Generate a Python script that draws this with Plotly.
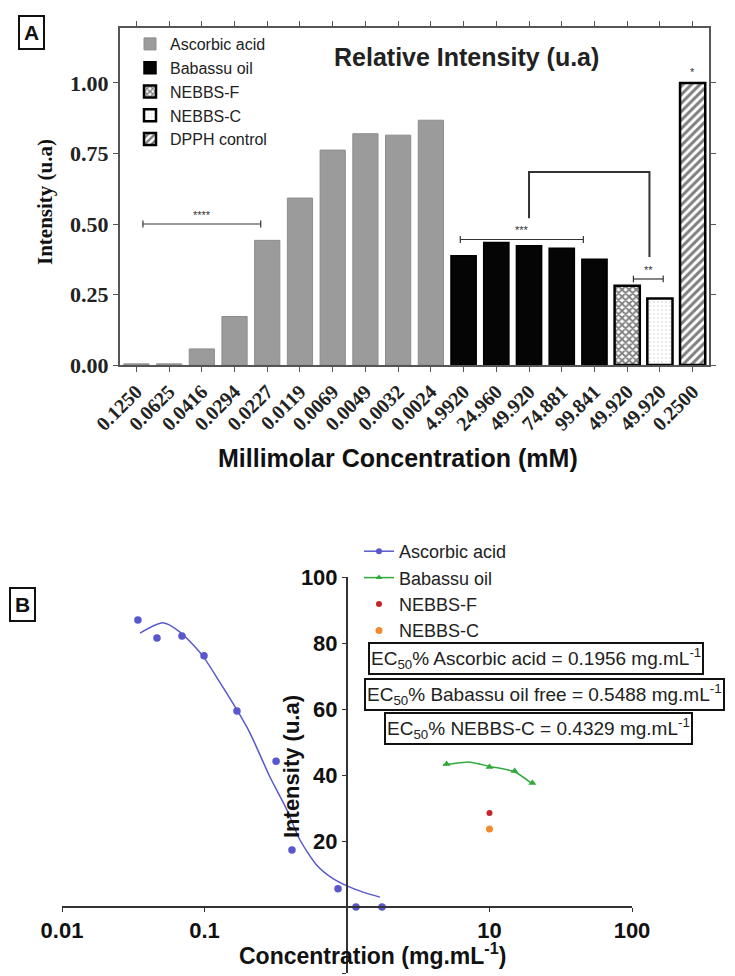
import plotly.graph_objects as go

# ---------------- Panel A data ----------------
asc_labels = ["0.1250", "0.0625", "0.0416", "0.0294", "0.0227", "0.0119", "0.0069", "0.0049", "0.0032", "0.0024"]
asc_vals = [0.004, 0.004, 0.057, 0.172, 0.442, 0.592, 0.762, 0.82, 0.815, 0.868]
bab_labels = ["4.9920", "24.960", "49.920", "74.881", "99.841"]
bab_vals = [0.387, 0.434, 0.423, 0.414, 0.375]
nebf_labels = ["49.920"]
nebf_vals = [0.281]
nebc_labels = ["49.920"]
nebc_vals = [0.236]
dpph_labels = ["0.2500"]
dpph_vals = [1.0]

# ---------------- Panel B data ----------------
asc_x = [0.0341, 0.0464, 0.0695, 0.0992, 0.169, 0.318, 0.411, 0.865, 1.156, 1.76]
asc_y = [87.0, 81.5, 82.1, 76.1, 59.4, 44.2, 17.3, 5.5, 0.0, 0.0]
asc_fit_x = [0.0353, 0.0511, 0.0673, 0.096, 0.1285, 0.169, 0.2086, 0.288, 0.379, 0.468, 0.616, 0.798, 1.0, 1.295, 1.704]
asc_fit_y = [83.0, 86.1, 83.3, 76.4, 68.0, 59.7, 52.7, 39.4, 29.4, 20.3, 12.6, 8.6, 6.4, 4.5, 3.0]
bab_x = [5.0, 10.0, 15.0, 20.0]
bab_y = [43.3, 42.4, 41.2, 37.6]
bab_fit_x = [4.72, 7.3, 10.0, 15.0, 20.0]
bab_fit_y = [43.0, 43.9, 42.6, 41.0, 37.3]
nebf_x = [10.0]
nebf_y = [28.5]
nebc_x = [10.0]
nebc_y = [23.6]
b_xticks = [0.01, 0.1, 10, 100]
b_xticktext = ["0.01", "0.1", "10", "100"]
b_yticks = [-20, 20, 40, 60, 80, 100]

SERIF = "Liberation Serif"
SANS = "Liberation Sans"

# page offset compensation (body margin): figure occupies screen px 8..735 x 8..976
OFF = 8
FW, FH = 735 - OFF, 976 - OFF


def fx(px):
    return (px - OFF) / FW


def fy(py):
    return 1 - (py - OFF) / FH


all_labels = asc_labels + bab_labels + nebf_labels + nebc_labels + dpph_labels
idx = list(range(len(all_labels)))
n1 = len(asc_labels)
n2 = n1 + len(bab_labels)
n3 = n2 + len(nebf_labels)
n4 = n3 + len(nebc_labels)

fig = go.Figure()
BW = 0.77
fig.add_trace(go.Bar(x=idx[:n1], y=asc_vals, name="Ascorbic acid", width=BW,
                     marker=dict(color="#9b9b9b", line=dict(color="#8c8c8c", width=1)),
                     xaxis="x", yaxis="y", legend="legend"))
fig.add_trace(go.Bar(x=idx[n1:n2], y=bab_vals, name="Babassu oil", width=BW,
                     marker=dict(color="#050505", line=dict(color="black", width=1.5)),
                     xaxis="x", yaxis="y", legend="legend"))
fig.add_trace(go.Bar(x=idx[n2:n3], y=nebf_vals, name="NEBBS-F", width=BW,
                     marker=dict(color="white", line=dict(color="black", width=2.5),
                                 pattern=dict(shape="x", fgcolor="black", bgcolor="white", size=5, solidity=0.6)),
                     xaxis="x", yaxis="y", legend="legend"))
fig.add_trace(go.Bar(x=idx[n3:n4], y=nebc_vals, name="NEBBS-C", width=BW,
                     marker=dict(color="white", line=dict(color="black", width=2.5),
                                 pattern=dict(shape=".", fgcolor="#c8c8c8", bgcolor="white", size=4, solidity=0.2)),
                     xaxis="x", yaxis="y", legend="legend"))
fig.add_trace(go.Bar(x=idx[n4:], y=dpph_vals, name="DPPH control", width=BW,
                     marker=dict(color="white", line=dict(color="black", width=2.5),
                                 pattern=dict(shape="/", fgcolor="black", bgcolor="white", size=6, solidity=0.5)),
                     xaxis="x", yaxis="y", legend="legend"))

# Panel B traces
BLUE = "#5858cc"
GREEN = "#2faa3a"
fig.add_trace(go.Scatter(x=asc_fit_x, y=asc_fit_y, mode="lines", line=dict(color=BLUE, width=1.5, shape="spline", smoothing=0.7),
                         showlegend=False, xaxis="x2", yaxis="y2", hoverinfo="skip"))
fig.add_trace(go.Scatter(x=asc_x, y=asc_y, mode="markers", marker=dict(color=BLUE, size=7.5),
                         showlegend=False, xaxis="x2", yaxis="y2"))
fig.add_trace(go.Scatter(x=bab_fit_x, y=bab_fit_y, mode="lines", line=dict(color=GREEN, width=1.5, shape="spline", smoothing=0.6),
                         showlegend=False, xaxis="x2", yaxis="y2", hoverinfo="skip"))
fig.add_trace(go.Scatter(x=bab_x, y=bab_y, mode="markers", marker=dict(color=GREEN, size=7, symbol="triangle-up"),
                         showlegend=False, xaxis="x2", yaxis="y2"))
# legend entries (line + marker)
fig.add_trace(go.Scatter(x=[None], y=[None], mode="lines+markers", name="Ascorbic acid",
                         line=dict(color=BLUE, width=1.5), marker=dict(color=BLUE, size=6),
                         xaxis="x2", yaxis="y2", legend="legend2"))
fig.add_trace(go.Scatter(x=[None], y=[None], mode="lines+markers", name="Babassu oil",
                         line=dict(color=GREEN, width=1.5), marker=dict(color=GREEN, size=6, symbol="triangle-up"),
                         xaxis="x2", yaxis="y2", legend="legend2"))
fig.add_trace(go.Scatter(x=nebf_x, y=nebf_y, mode="markers", name="NEBBS-F",
                         marker=dict(color="#c8232c", size=6), xaxis="x2", yaxis="y2", legend="legend2"))
fig.add_trace(go.Scatter(x=nebc_x, y=nebc_y, mode="markers", name="NEBBS-C",
                         marker=dict(color="#f28a30", size=7), xaxis="x2", yaxis="y2", legend="legend2"))

AX = "#555555"
fig.update_layout(
    width=FW, height=FH,
    margin=dict(l=0, r=0, t=0, b=0, autoexpand=False),
    paper_bgcolor="white", plot_bgcolor="white",
    barmode="overlay",
    showlegend=True,
    xaxis=dict(domain=[fx(120), fx(709)], anchor="y", range=[-0.5, 17.5], automargin=False,
               tickmode="array", tickvals=idx, ticktext=all_labels, tickangle=-45,
               tickfont=dict(family=SERIF, size=20, color="#222", weight="bold"),
               showline=True, linecolor=AX, linewidth=2, mirror="ticks",
               ticks="outside", ticklen=5, tickcolor=AX, showgrid=False, zeroline=False),
    yaxis=dict(domain=[fy(365), fy(28)], anchor="x", range=[0, 1.195], automargin=False,
               tickvals=[0, 0.25, 0.5, 0.75, 1.0], tickformat=".2f",
               tickfont=dict(family=SERIF, size=22, color="#222", weight="bold"),
               showline=True, linecolor=AX, linewidth=2, mirror="ticks",
               ticks="outside", ticklen=5, tickcolor=AX, showgrid=False, zeroline=False),
    xaxis2=dict(domain=[fx(62), fx(632)], anchor="free", position=fy(907), type="log", range=[-2, 2],
                automargin=False, tickvals=b_xticks, ticktext=b_xticktext,
                tickfont=dict(family=SANS, size=22, color="#111", weight="bold"),
                showline=True, linecolor="#333", linewidth=2, ticks="outside", ticklen=4, tickcolor="#333",
                showgrid=False, zeroline=False),
    yaxis2=dict(domain=[fy(973), fy(577)], anchor="free", position=fx(347), range=[-20, 100],
                automargin=False, tickvals=b_yticks,
                tickfont=dict(family=SANS, size=22, color="#111", weight="bold"),
                showline=True, linecolor="#333", linewidth=2, ticks="outside", ticklen=4, tickcolor="#333",
                showgrid=False, zeroline=False),
    legend=dict(x=fx(130), y=fy(27), xanchor="left", yanchor="top", bgcolor="rgba(0,0,0,0)",
                font=dict(family=SANS, size=16, color="#222"), tracegroupgap=0, itemwidth=30),
    legend2=dict(x=fx(359), y=fy(533), xanchor="left", yanchor="top", bgcolor="rgba(0,0,0,0)",
                 font=dict(family=SANS, size=18, color="#222"), tracegroupgap=0, itemwidth=30),
)


def ann(px, py, text, **kw):
    fig.add_annotation(xref="paper", yref="paper", x=fx(px), y=fy(py), text=text, showarrow=False,
                       xanchor="center", yanchor="middle", **kw)


# Panel A annotations: significance brackets
def bracket(x0, x1, y, label, cap=0.012):
    fig.add_shape(type="line", xref="x", yref="y", x0=x0, x1=x1, y0=y, y1=y, line=dict(color="#333", width=1.2))
    fig.add_shape(type="line", xref="x", yref="y", x0=x0, x1=x0, y0=y - cap, y1=y + cap, line=dict(color="#333", width=1.2))
    fig.add_shape(type="line", xref="x", yref="y", x0=x1, x1=x1, y0=y - cap, y1=y + cap, line=dict(color="#333", width=1.2))
    fig.add_annotation(xref="x", yref="y", x=(x0 + x1) / 2, y=y + 0.005, text=label, showarrow=False,
                       xanchor="center", yanchor="bottom", font=dict(family=SANS, size=11, color="#333"))


bracket(0.2, 3.8, 0.50, "****")
bracket(9.9, 13.66, 0.445, "***")
bracket(15.19, 16.1, 0.305, "**")
fig.add_shape(type="path", xref="x", yref="y", path="M 12,0.52 L 12,0.684 L 15.68,0.684 L 15.68,0.383",
              line=dict(color="#333", width=2))
fig.add_annotation(xref="x", yref="y", x=17, y=1.01, text="*", showarrow=False, xanchor="center", yanchor="bottom",
                   font=dict(family=SANS, size=11, color="#333"))

ann(466, 57, "<b>Relative Intensity (u.a)</b>", font=dict(family=SANS, size=25, color="#222"))

# Panel A axis titles
ann(398, 458, "<b>Millimolar Concentration (mM)</b>", font=dict(family=SANS, size=25, color="#111"))
ann(45, 202, "<b>Intensity (u.a)</b>", textangle=-90, font=dict(family=SERIF, size=21, color="#111"))

# Panel labels
ann(32, 33, "<b>A</b>", font=dict(family=SANS, size=21, color="#111"), bordercolor="#111", borderwidth=2, borderpad=4)
ann(22, 604, "<b>B</b>", font=dict(family=SANS, size=21, color="#111"), bordercolor="#111", borderwidth=2, borderpad=4)

# Panel B axis titles
ann(372, 954, "<b>Concentration (mg.mL<sup>-1</sup>)</b>", font=dict(family=SANS, size=23, color="#111"))
ann(291, 767, "<b>Intensity (u.a)</b>", textangle=-90, font=dict(family=SANS, size=22, color="#111"))

# EC50 boxes
ec_texts = ["EC<sub>50</sub>% Ascorbic acid = 0.1956 mg.mL<sup>-1</sup>",
            "EC<sub>50</sub>% Babassu oil free = 0.5488 mg.mL<sup>-1</sup>",
            "EC<sub>50</sub>% NEBBS-C = 0.4329 mg.mL<sup>-1</sup>"]
ec_pos = [(536, 658), (544, 694), (538, 728)]
for t, (px, py) in zip(ec_texts, ec_pos):
    ann(px, py, t, font=dict(family=SANS, size=19, color="#222"), bordercolor="#111", borderwidth=2,
        borderpad=1, bgcolor="white")

fig.write_html("out.html")
